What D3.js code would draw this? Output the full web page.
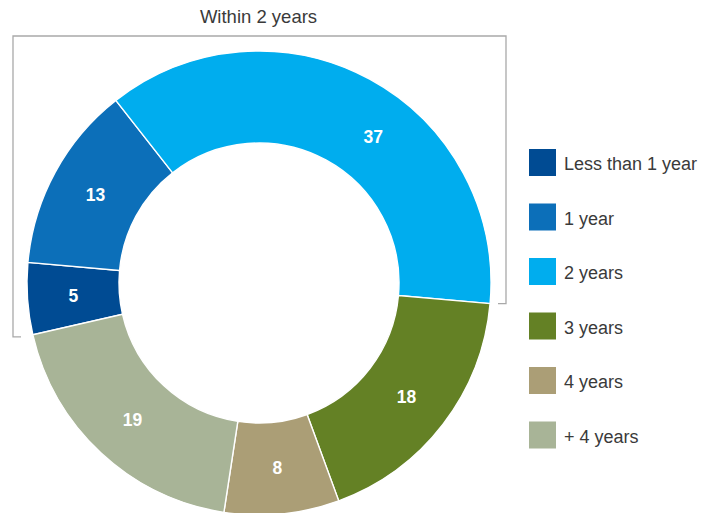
<!DOCTYPE html>
<html>
<head>
<meta charset="utf-8">
<script src="https://cdn.jsdelivr.net/npm/d3@7/dist/d3.min.js"></script>
<style>
  html, body { margin: 0; padding: 0; background: #fff; }
  svg { display: block; }
</style>
</head>
<body>
<svg id="chart" width="705" height="513"></svg>
<script>
// Maturity breakdown (percent of total)
const categories = ["Less than 1 year", "1 year", "2 years", "3 years", "4 years", "+ 4 years"];
const values = [5, 13, 37, 18, 8, 19];
const colors = ["#004b93", "#0c6fb9", "#00adee", "#648125", "#ab9e76", "#a8b497"];
const bracketTitle = "Within 2 years";
const bracketGroup = ["Less than 1 year", "1 year", "2 years"];

const W = 705, H = 513;
const cx = 259, cy = 283;
const outerR = 232, innerR = 140;
const startDeg = -102.9;
const deg = Math.PI / 180;

// the label of the largest slice sits a little further clockwise
const labelShift = { "2 years": 9.4 * deg };

const svg = d3.select("#chart");

const data = categories.map((c, i) => ({ cat: c, value: values[i], color: colors[i] }));

const pie = d3.pie()
  .value(d => d.value)
  .sort(null)
  .startAngle(startDeg * deg)
  .endAngle(startDeg * deg + 2 * Math.PI);

const arcs = pie(data);

const arc = d3.arc().innerRadius(innerR).outerRadius(outerR);

const g = svg.append("g").attr("transform", `translate(${cx},${cy})`);

g.selectAll("path.slice")
  .data(arcs)
  .join("path")
  .attr("class", "slice")
  .attr("d", arc)
  .attr("fill", d => d.data.color)
  .attr("stroke", "#fff")
  .attr("stroke-width", 1.4);

const labelR = (innerR + outerR) / 2;
g.selectAll("text.val")
  .data(arcs)
  .join("text")
  .attr("class", "val")
  .attr("transform", d => {
    const a = (d.startAngle + d.endAngle) / 2 + (labelShift[d.data.cat] || 0);
    return `translate(${labelR * Math.sin(a)},${-labelR * Math.cos(a)})`;
  })
  .attr("text-anchor", "middle")
  .attr("dy", "0.36em")
  .attr("fill", "#fff")
  .attr("font-family", "'Liberation Sans', Arial, sans-serif")
  .attr("font-weight", "bold")
  .attr("font-size", 17.5)
  .text(d => d.value);

// Bracket around the "within 2 years" slices
const grouped = arcs.filter(d => bracketGroup.includes(d.data.cat));
const gStart = d3.min(grouped, d => d.startAngle);
const gEnd = d3.max(grouped, d => d.endAngle);
const leftX = 13, rightX = 506, topY = 36, tick = 8;
const leftBottom = cy - outerR * Math.cos(gStart) + 2;
const rightBottom = cy - outerR * Math.cos(gEnd);

svg.append("path")
  .attr("d", `M${leftX + tick},${leftBottom} H${leftX} V${topY} H${rightX} V${rightBottom} H${rightX - tick}`)
  .attr("fill", "none")
  .attr("stroke", "#a9a9a9")
  .attr("stroke-width", 1.3);

svg.append("text")
  .attr("x", (leftX + rightX) / 2 - 1)
  .attr("y", 23)
  .attr("text-anchor", "middle")
  .attr("fill", "#3a3a3a")
  .attr("font-family", "'Liberation Sans', Arial, sans-serif")
  .attr("font-size", 18.5)
  .text(bracketTitle);

// Legend
const legend = svg.append("g").attr("transform", "translate(529,149)");
const item = legend.selectAll("g.item")
  .data(data)
  .join("g")
  .attr("class", "item")
  .attr("transform", (d, i) => `translate(0,${i * 54.5})`);

item.append("rect")
  .attr("width", 27)
  .attr("height", 27)
  .attr("fill", d => d.color);

item.append("text")
  .attr("x", 35)
  .attr("y", 21)
  .attr("fill", "#3a3a3a")
  .attr("font-family", "'Liberation Sans', Arial, sans-serif")
  .attr("font-size", 18)
  .text(d => d.cat);
</script>
</body>
</html>
